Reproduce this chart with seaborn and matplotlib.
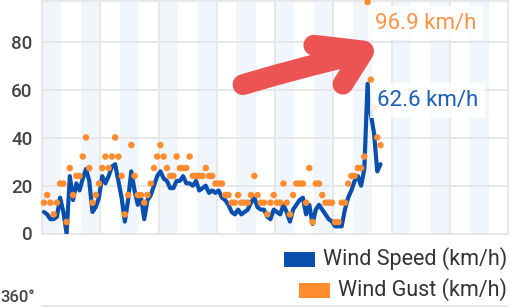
import matplotlib
matplotlib.use("Agg")
import matplotlib.pyplot as plt
import seaborn as sns
import numpy as np
import pandas as pd
from matplotlib.patches import Rectangle
from matplotlib.lines import Line2D

# ---- data (km/h, one reading every 20 minutes) ----
wind_speed = [9, 8, 6, 6, 7, 15, 9, 0, 24, 14,
              21, 18, 23, 27, 22, 9, 11, 15, 24, 21,
              24, 28, 29, 22, 15, 5, 14, 26, 18, 12,
              15, 6, 14, 16, 20, 24, 26, 23, 22, 19,
              19, 22, 22, 24, 21, 21, 20, 22, 18, 19,
              20, 17, 18, 17, 18, 15, 14, 12, 9, 8,
              10, 8, 9, 10, 13, 15, 11, 10, 10, 7,
              6, 10, 9, 8, 12, 9, 5, 10, 12, 14,
              15, 8, 12, 4, 10, 12, 10, 8, 6, 5,
              3, 3, 3, 10, 15, 18, 22, 24, 20, 27,
              62.6, 50, 42, 26, 29]
wind_gust = [12.9, 16.1, 12.9, 8.0, 12.9, 20.9, 20.9, 4.8, 27.4, 16.1,
             24.1, 24.1, 32.2, 40.2, 27.4, 12.9, 16.1, 20.9, 27.4, 32.2,
             27.4, 32.2, 40.2, 32.2, 24.1, 8.0, 16.1, 37.0, 24.1, 16.1,
             16.1, 12.9, 16.1, 20.9, 27.4, 32.2, 37.0, 32.2, 27.4, 24.1,
             24.1, 32.2, 27.4, 27.4, 27.4, 32.2, 24.1, 24.1, 24.1, 24.1,
             27.4, 24.1, 24.1, 20.9, 20.9, 20.9, 16.1, 16.1, 12.9, 12.9,
             16.1, 12.9, 12.9, 12.9, 16.1, 24.1, 16.1, 12.9, 12.9, 8.0,
             12.9, 16.1, 12.9, 12.9, 20.9, 12.9, 8.0, 16.1, 20.9, 20.9,
             20.9, 12.9, 27.4, 4.8, 20.9, 20.9, 16.1, 12.9, 12.9, 12.9,
             4.8, 4.8, 12.9, 12.9, 20.9, 24.1, 24.1, 27.4, 27.4, 32.2,
             96.9, 64.4, 52.7, 40.2, 37.0]
start_hour = 0.2
step_hours = 1 / 3
y_ticks = [0, 20, 40, 60, 80]
max_speed_label = "62.6 km/h"
max_gust_label = "96.9 km/h"
legend_labels = ["Wind Speed (km/h)", "Wind Gust (km/h)"]
bottom_label = "360°"

hours = [start_hour + i * step_hours for i in range(len(wind_speed))]
df = pd.DataFrame({"hour": hours, "speed": wind_speed, "gust": wind_gust})

BLUE = "#0b4fae"
ORANGE = "#ff8c2e"
GRID = "#e6e6e6"
BAND = "#f0f6fb"
TEXT = "#444444"

sns.set_style("white")
plt.rcParams["font.family"] = ["Roboto", "DejaVu Sans"]

W, H = 520, 307
fig = plt.figure(figsize=(W / 100, H / 100), dpi=100)
ax = fig.add_axes([42 / W, (H - 233.5) / H, 466 / W, 232.5 / H])
ax.set_xlim(0, 48)
ax.set_ylim(0, 97.3)

# alternating shaded bands
for b in np.arange(0, 48, 4):
    ax.axvspan(b, b + 2, color=BAND, lw=0, zorder=0)

ax.set_xticks(np.arange(6, 48, 6))
ax.set_xticklabels([])
ax.set_yticks(y_ticks)
ax.set_yticklabels([str(v) for v in y_ticks])
ax.grid(True, color=GRID, lw=1.3, zorder=0.5)
ax.set_axisbelow(True)
ax.tick_params(axis="both", length=0, pad=7)
for lab in ax.get_yticklabels():
    lab.set_fontsize(13.5)
    lab.set_color(TEXT)
    lab.set_fontweight(500)
for s in ax.spines.values():
    s.set_color(GRID)
    s.set_linewidth(1.3)

sns.lineplot(data=df, x="hour", y="speed", ax=ax, color=BLUE, lw=3.0,
             zorder=3, legend=False)
sns.scatterplot(data=df, x="hour", y="gust", ax=ax, color=ORANGE, s=22,
                edgecolor="none", zorder=4, legend=False, clip_on=False)
ax.set_xlabel("")
ax.set_ylabel("")

# value labels
ax.text(34.3, 88.0, max_gust_label, color="#ff9346", fontsize=16, va="center",
        ha="left", zorder=6,
        bbox=dict(boxstyle="square,pad=0.3", fc="white", ec="none", alpha=0.85))
ax.text(34.5, 55.6, max_speed_label, color="#1d5fb8", fontsize=16, va="center",
        ha="left", zorder=6,
        bbox=dict(boxstyle="square,pad=0.3", fc="white", ec="none", alpha=0.85))

# red arrow (annotation drawing)
RED = "#ec5454"
lw_arrow = 15
ax.plot([20.7, 24.0, 27.5, 31.0, 33.0], [62.3, 66.2, 70.0, 73.6, 76.0],
        color=RED, lw=lw_arrow, solid_capstyle="round", solid_joinstyle="round",
        zorder=7, clip_on=False)
ax.plot([28.0, 33.1], [78.8, 76.4], color=RED, lw=lw_arrow,
        solid_capstyle="round", zorder=7, clip_on=False)
ax.plot([31.0, 33.1], [62.5, 76.0], color=RED, lw=lw_arrow,
        solid_capstyle="round", zorder=7, clip_on=False)

# manual legend, right aligned
fig.canvas.draw()
renderer = fig.canvas.get_renderer()
colors = [BLUE, ORANGE]
centers = [259, 290]
for lab, col, cy in zip(legend_labels, colors, centers):
    t = fig.text(507 / W, (H - cy) / H, lab, ha="right", va="center",
                 fontsize=15.5, color="#333333")
    bb = t.get_window_extent(renderer)
    rx = bb.x0 - 8 - 31
    fig.patches.append(Rectangle((rx / W, (H - cy - 7.5) / H), 31 / W, 15 / H,
                                 transform=fig.transFigure, fc=col, ec="none"))

# top of the next chart
fig.add_artist(Line2D([42 / W, 508 / W], [(H - 305.5) / H] * 2,
                      transform=fig.transFigure, color=GRID, lw=1.3))
fig.text(35 / W, 1.5 / H, bottom_label, ha="right", va="bottom",
         fontsize=12, color=TEXT, fontweight=500)

fig.savefig("out.png", dpi=100)
